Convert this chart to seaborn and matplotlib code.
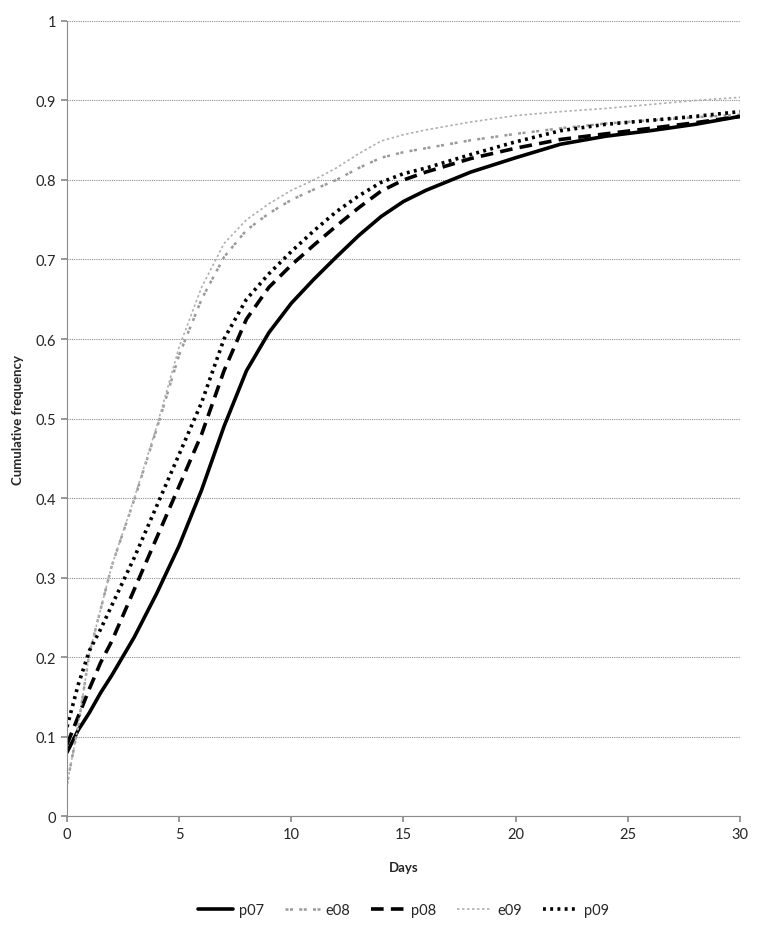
import matplotlib
matplotlib.use("Agg")
import matplotlib.pyplot as plt
import seaborn as sns
import numpy as np
import pandas as pd

days = [0, 0.5, 1, 1.5, 2, 3, 4, 5, 6, 7, 8, 9, 10, 11, 12, 13, 14, 15, 16, 18, 20, 22, 24, 26, 28, 30]
p07 = [0.08, 0.108, 0.13, 0.155, 0.177, 0.225, 0.28, 0.34, 0.41, 0.49, 0.56, 0.608, 0.645, 0.675, 0.703, 0.73, 0.754, 0.773, 0.787, 0.81, 0.828, 0.845, 0.855, 0.862, 0.870, 0.88]
e08 = [0.04, 0.113, 0.205, 0.26, 0.315, 0.398, 0.487, 0.58, 0.65, 0.703, 0.737, 0.758, 0.775, 0.788, 0.80, 0.815, 0.828, 0.835, 0.84, 0.85, 0.858, 0.865, 0.871, 0.875, 0.879, 0.882]
p08 = [0.09, 0.125, 0.16, 0.193, 0.22, 0.285, 0.35, 0.415, 0.48, 0.56, 0.625, 0.665, 0.693, 0.718, 0.742, 0.765, 0.786, 0.80, 0.81, 0.827, 0.84, 0.851, 0.858, 0.865, 0.872, 0.88]
e09 = [0.04, 0.113, 0.205, 0.26, 0.315, 0.40, 0.49, 0.59, 0.665, 0.72, 0.75, 0.77, 0.787, 0.80, 0.815, 0.833, 0.849, 0.857, 0.863, 0.873, 0.881, 0.886, 0.89, 0.895, 0.90, 0.904]
p09 = [0.112, 0.165, 0.208, 0.235, 0.265, 0.325, 0.39, 0.455, 0.52, 0.60, 0.65, 0.682, 0.71, 0.736, 0.76, 0.78, 0.797, 0.808, 0.815, 0.832, 0.848, 0.862, 0.87, 0.875, 0.88, 0.886]

series = {"p07": p07, "e08": e08, "p08": p08, "e09": e09, "p09": p09}
df = pd.DataFrame([(d, name, v) for name, vals in series.items() for d, v in zip(days, vals)],
                  columns=["Days", "series", "Cumulative frequency"])

sns.set_theme(style="white")
plt.rcParams["font.family"] = ["Lato", "DejaVu Sans"]

fig = plt.figure(figsize=(7.61, 9.28), dpi=100)
ax = fig.add_axes([0.088, 0.1196, 0.8844, 0.8567])

styles = {
    "p07": dict(color="black", lw=2.6, linestyle="-"),
    "e08": dict(color="#9a9a9a", lw=1.8, linestyle=(0, (1.2, 0.6, 1.2, 2.5))),
    "p08": dict(color="black", lw=2.6, linestyle=(0, (3.5, 2.0))),
    "e09": dict(color="#b0b0b0", lw=1.2, linestyle=(0, (1.5, 1.5))),
    "p09": dict(color="black", lw=2.6, linestyle=(0, (0.8, 1.2))),
}
for name in series:
    sub = df[df["series"] == name]
    sns.lineplot(data=sub, x="Days", y="Cumulative frequency", ax=ax, label=name,
                 estimator=None, sort=True, **styles[name])
for line in ax.get_lines():
    line.set_solid_joinstyle("round")
    line.set_dash_joinstyle("round")

ax.set_xlim(0, 30)
ax.set_ylim(0, 1)
ax.set_xticks([0, 5, 10, 15, 20, 25, 30])
ax.set_yticks(np.round(np.arange(0, 1.01, 0.1), 1))
ax.set_yticklabels(["0", "0.1", "0.2", "0.3", "0.4", "0.5", "0.6", "0.7", "0.8", "0.9", "1"])
ax.yaxis.grid(True, color="#8c8c8c", lw=0.8, linestyle=(0, (1, 1)))
ax.xaxis.grid(False)
for s in ["top", "right"]:
    ax.spines[s].set_visible(False)
for s in ["left", "bottom"]:
    ax.spines[s].set_color("#8c8c8c")
    ax.spines[s].set_linewidth(0.8)
ax.tick_params(axis="x", bottom=True, direction="out", length=4, color="#8c8c8c", labelsize=10.5, pad=4)
ax.tick_params(axis="y", left=True, direction="out", length=4, color="#8c8c8c", labelsize=10.5, pad=4)
ax.set_xlabel("Days", fontsize=9.5, fontweight="bold", labelpad=14)
ax.set_ylabel("Cumulative frequency", fontsize=9.5, fontweight="bold", labelpad=8)

ax.legend(loc="upper center", bbox_to_anchor=(0.5, -0.093), ncol=5, frameon=False,
          fontsize=10.5, handlelength=2.4, columnspacing=1.4, handletextpad=0.4)

fig.savefig("out.png", dpi=100)
